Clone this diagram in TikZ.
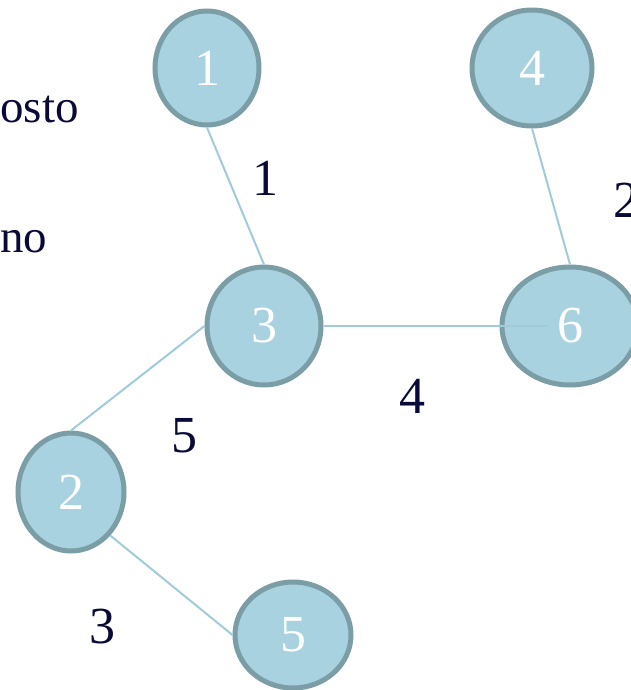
\documentclass[tikz,border=0pt]{standalone}
\usepackage{fontspec}
\setmainfont{Liberation Serif}
\usetikzlibrary{shapes.geometric}
\definecolor{knotfill}{HTML}{A8D2DF}
\definecolor{knotdraw}{HTML}{7A9DA6}
\definecolor{kante}{HTML}{9FCCD8}
\definecolor{tinte}{HTML}{0A0A38}

\begin{document}
\begin{tikzpicture}[x=0.5pt,y=-0.5pt,
    knot/.style={ellipse,draw=knotdraw,fill=knotfill,line width=2.5pt,inner sep=0,
                 text=white,font=\fontsize{26}{30}\selectfont},
    weight/.style={text=tinte,inner sep=0,font=\fontsize{26}{30}\selectfont},
    caption/.style={weight,font=\fontsize{23.5}{28}\selectfont},
    link/.style={draw=kante,line width=1pt}
    ]
    \useasboundingbox (0,0) rectangle (631,690);
    %%% Knoten
    \node[knot,minimum width=52pt,minimum height=57pt] (n1) at (207,68) {1};
    \node[knot,minimum width=60pt,minimum height=58pt] (n4) at (532,68) {4};
    \node[knot,minimum width=57pt,minimum height=59pt] (n3) at (264,326) {3};
    \node[knot,minimum width=68pt,minimum height=59pt] (n6) at (570,326) {6};
    \node[knot,minimum width=53pt,minimum height=59pt] (n2) at (71,492) {2};
    \node[knot,minimum width=58pt,minimum height=53pt] (n5) at (293,635) {5};
    %%% Kanten
    \draw[link] (n1.south) -- (n3.north);
    \draw[link] (n4.south) -- (n6.north);
    \draw[link] (n3.east) -- ([xshift=-11pt]n6.center);
    \draw[link] (n3.west) -- (n2.north);
    \draw[link] (n2.south east) -- (n5.west);
    %%% Gewichte
    \node[weight] (w13) at (265,178) {1};
    \node[weight,anchor=west] (w46) at (613,200) {2};
    \node[weight] (w36) at (412,396) {4};
    \node[weight] (w32) at (184,436) {5};
    \node[weight] (w25) at (102,627) {3};
    %%% Text links
    \node[caption,anchor=base west] (kosten) at (0,123) {osto};
    \node[caption,anchor=base west] (weg) at (0,252) {no};
\end{tikzpicture}
\end{document}
